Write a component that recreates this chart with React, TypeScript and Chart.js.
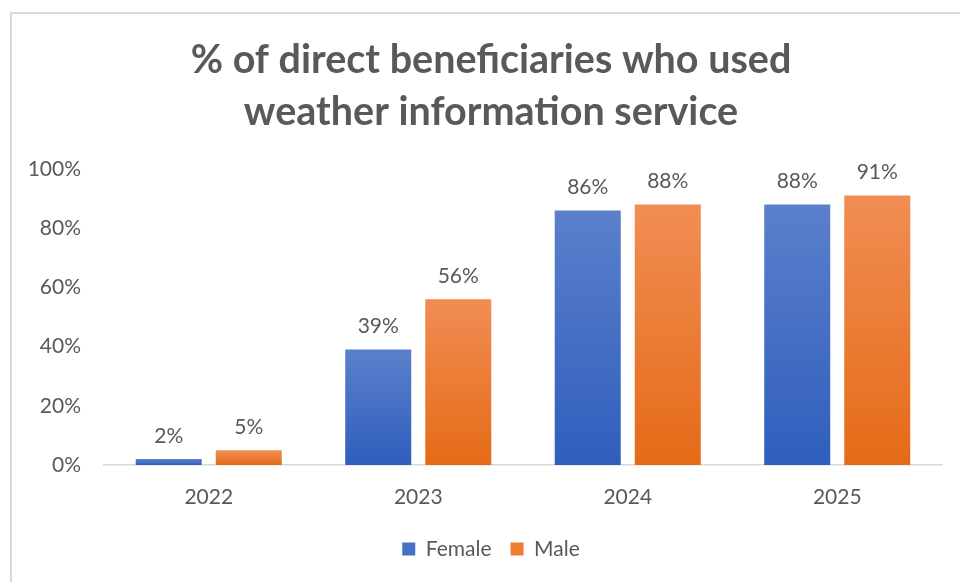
import React, { useEffect, useRef } from "react";
import { Chart, registerables } from "chart.js";

Chart.register(...registerables);

const categories = ["2022", "2023", "2024", "2025"];
const femaleValues = [2, 39, 86, 88];
const maleValues = [5, 56, 88, 91];
const yTicks = [0, 20, 40, 60, 80, 100];
const titleLines = ["% of direct beneficiaries who used", "weather information service"];
const seriesNames = ["Female", "Male"];

const FONT = "Lato, 'Open Sans', sans-serif";
const TEXT = "#595959";
const SMALL = 21;

function gradientFor(top: string, bottom: string) {
  return (ctx: any) => {
    const chart = ctx.chart;
    const y = chart.scales?.y;
    if (!y || ctx.type !== "data") return bottom;
    const v = ctx.raw as number;
    const yTop = y.getPixelForValue(v);
    const yBase = y.getPixelForValue(0);
    if (!isFinite(yTop) || !isFinite(yBase) || yTop === yBase) return bottom;
    const g = chart.ctx.createLinearGradient(0, yTop, 0, yBase);
    g.addColorStop(0, top);
    g.addColorStop(1, bottom);
    return g;
  };
}

const dataLabels = {
  id: "dataLabels",
  afterDatasetsDraw(chart: any) {
    const { ctx } = chart;
    ctx.save();
    ctx.font = `${SMALL}px ${FONT}`;
    ctx.fillStyle = TEXT;
    ctx.textAlign = "center";
    ctx.textBaseline = "middle";
    chart.data.datasets.forEach((ds: any, di: number) => {
      const meta = chart.getDatasetMeta(di);
      meta.data.forEach((bar: any, i: number) => {
        ctx.fillText(ds.data[i] + "%", bar.x, bar.y - 23);
      });
    });
    ctx.restore();
  },
};

export default function App() {
  const ref = useRef<HTMLCanvasElement>(null);
  useEffect(() => {
    if (!ref.current) return;
    const chart = new Chart(ref.current, {
      type: "bar",
      data: {
        labels: categories,
        datasets: [
          {
            label: seriesNames[0],
            data: femaleValues,
            backgroundColor: gradientFor("#5B80CB", "#2F5EBD"),
            categoryPercentage: 0.764,
            barPercentage: 0.825,
            yAxisID: "y",
          },
          {
            label: seriesNames[1],
            data: maleValues,
            backgroundColor: gradientFor("#F18D54", "#E46B17"),
            categoryPercentage: 0.764,
            barPercentage: 0.825,
            yAxisID: "y",
          },
        ],
      },
      options: {
        animation: false,
        responsive: false,
        layout: { padding: { left: 22, right: 0, top: 0, bottom: 12.5 } },
        plugins: {
          title: {
            display: true,
            text: titleLines,
            color: TEXT,
            font: { family: FONT, size: 39.5, weight: "bold", lineHeight: 1.316 },
            padding: { top: 34, bottom: 31 },
          },
          legend: {
            position: "bottom",
            labels: {
              color: TEXT,
              font: { family: FONT, size: SMALL },
              boxWidth: 13,
              boxHeight: 13,
              padding: 19,
              generateLabels: (chart: any) =>
                chart.data.datasets.map((ds: any, i: number) => ({
                  text: ds.label,
                  fillStyle: i === 0 ? "#4472C4" : "#ED7D31",
                  strokeStyle: "transparent",
                  lineWidth: 0,
                  fontColor: TEXT,
                  datasetIndex: i,
                  hidden: false,
                })),
            },
          },
          tooltip: { enabled: false },
        },
        scales: {
          x: {
            grid: { display: false, drawTicks: false },
            border: { display: true, color: "#D9D9D9", width: 1.5 },
            ticks: { color: TEXT, font: { family: FONT, size: SMALL }, padding: 19.4 },
            afterFit: (s: any) => {
              s.height = 54.5;
            },
          },
          y: {
            min: 0,
            max: 100,
            afterBuildTicks: (s: any) => {
              s.ticks = yTicks.map((v) => ({ value: v }));
            },
            grid: { display: false, drawTicks: false },
            border: { display: false },
            ticks: {
              color: TEXT,
              font: { family: FONT, size: SMALL },
              padding: 23,
              callback: (v: any) => v + "%",
            },
            afterFit: (s: any) => {
              s.width = 82;
            },
          },
          y2: {
            type: "linear",
            position: "right",
            display: true,
            grid: { display: false, drawTicks: false },
            border: { display: false },
            ticks: { display: false },
            afterFit: (s: any) => {
              s.width = 18;
            },
          },
        },
      },
      plugins: [dataLabels],
    });
    return () => chart.destroy();
  }, []);

  return (
    <div style={{ position: "absolute", left: 0, top: 0, width: 960, height: 582, overflow: "hidden", background: "#fff" }}>
      <div
        style={{
          position: "absolute",
          left: 10,
          top: 12,
          width: 1000,
          height: 1000,
          border: "2px solid #D9D9D9",
          boxSizing: "border-box",
        }}
      />
      <canvas ref={ref} width={960} height={582} style={{ position: "absolute", left: 0, top: 0, width: 960, height: 582 }} />
    </div>
  );
}
